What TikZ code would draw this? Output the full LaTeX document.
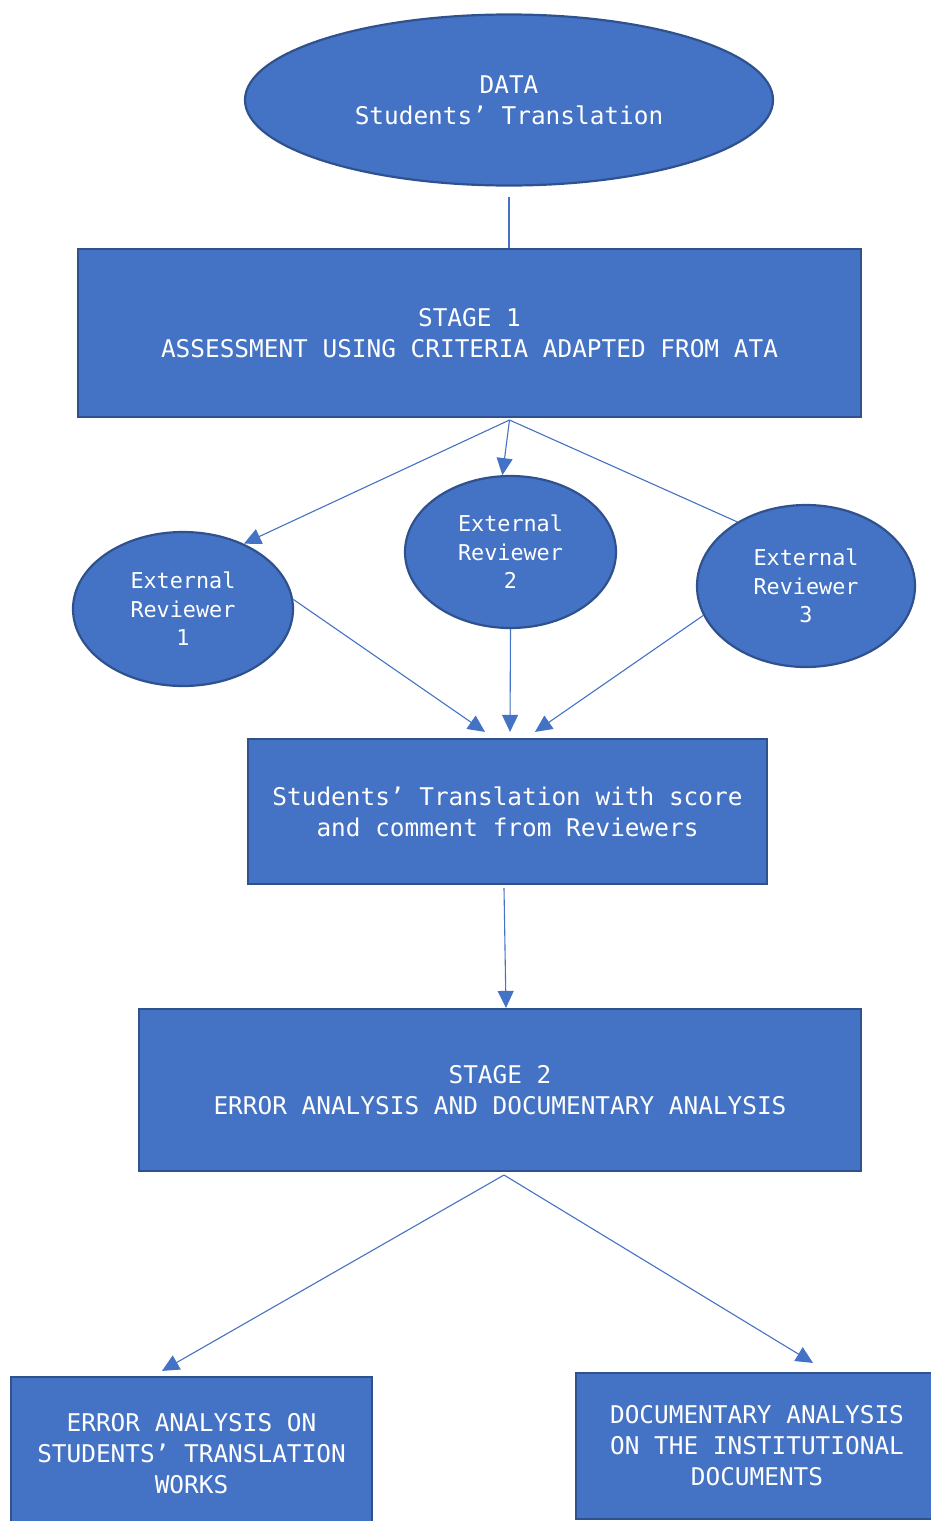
\documentclass[tikz,border=0pt]{standalone}
\usepackage{fontspec}
\usetikzlibrary{shapes.geometric,arrows.meta}
\newfontfamily\diagfont{DejaVu Sans Mono}
\definecolor{boxfill}{HTML}{4472C4}
\definecolor{boxedge}{HTML}{2F528F}
\definecolor{linkcol}{HTML}{4472C4}
\begin{document}
\begin{tikzpicture}[x=1pt,y=-1pt,
  shapebase/.style={fill=boxfill,draw=boxedge,line width=2.2pt,text=white,inner sep=0pt,align=center},
  bigtext/.style={font=\diagfont\fontsize{24.4}{31}\selectfont},
  smalltext/.style={font=\diagfont\fontsize{21.8}{28.5}\selectfont},
  oval/.style={shapebase,ellipse},
  panel/.style={shapebase,rectangle},
  link/.style={draw=linkcol,line width=1.1pt},
  arrowlink/.style={link,-{Triangle[length=17pt,width=16pt]}}
]
\clip (0,0) rectangle (931,1521);

% nodes
\node[oval,bigtext,minimum width=528pt,minimum height=171pt] (data) at (509,100)
  {DATA\\Students’ Translation};
\node[panel,bigtext,minimum width=783pt,minimum height=168pt] (s1) at (469.5,333)
  {STAGE 1\\ASSESSMENT USING CRITERIA ADAPTED FROM ATA};
\node[oval,smalltext,minimum width=220pt,minimum height=154pt] (er1) at (183,609)
  {External\\Reviewer\\1};
\node[oval,smalltext,minimum width=211pt,minimum height=152pt] (er2) at (510.5,552)
  {External\\Reviewer\\2};
\node[oval,smalltext,minimum width=218pt,minimum height=162pt] (er3) at (806,586)
  {External\\Reviewer\\3};
\node[panel,bigtext,minimum width=519pt,minimum height=145pt] (mid) at (507.5,811.5)
  {Students’ Translation with score\\and comment from Reviewers};
\node[panel,bigtext,minimum width=722pt,minimum height=162pt] (s2) at (500,1090)
  {STAGE 2\\ERROR ANALYSIS AND DOCUMENTARY ANALYSIS};
\node[panel,bigtext,minimum width=361pt,minimum height=154pt] (bl) at (191.5,1454)
  {ERROR ANALYSIS ON\\STUDENTS’ TRANSLATION\\WORKS};
\node[panel,bigtext,minimum width=362pt,minimum height=146pt] (br) at (757,1446)
  {DOCUMENTARY ANALYSIS\\ON THE INSTITUTIONAL\\DOCUMENTS};

% branching points
\coordinate (fork1) at (509.5,420);
\coordinate (fork2) at (504,1175);

% connectors
\draw[link] ([yshift=-10pt]data.south) -- (data.south |- s1.north);
\draw[arrowlink] (fork1) -- (er1.47);
\draw[arrowlink] (fork1) -- (er2.96);
\draw[link] (fork1) -- (er3.137);
\draw[arrowlink] (er1.5) -- ([xshift=-22.5pt,yshift=6pt]mid.north);
\draw[arrowlink] (er2.south) -- ([xshift=2.5pt,yshift=6pt]mid.north);
\draw[arrowlink] (er3.196) -- ([xshift=27.5pt,yshift=6pt]mid.north);
\draw[arrowlink] ([xshift=-3.5pt,yshift=-3pt]mid.south) -- ([xshift=6pt]s2.north);
\draw[arrowlink] (fork2) -- ([xshift=-29.5pt,yshift=5pt]bl.north);
\draw[arrowlink] (fork2) -- ([xshift=56pt,yshift=9pt]br.north);
\end{tikzpicture}
\end{document}
